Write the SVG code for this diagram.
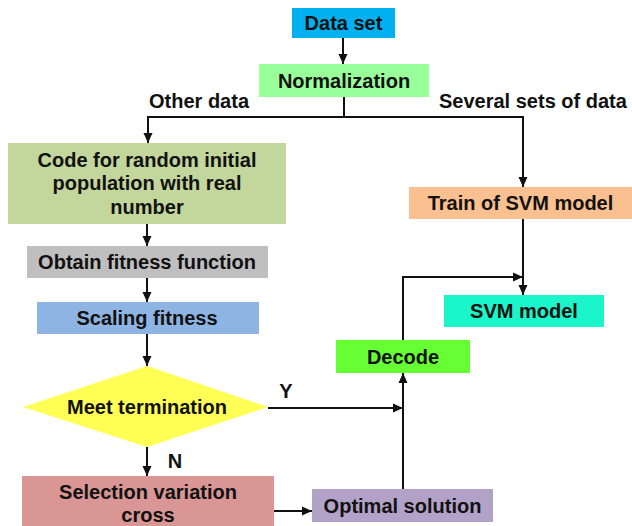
<svg xmlns="http://www.w3.org/2000/svg" width="632" height="526" viewBox="0 0 632 526">
<style>
text{font-family:"Liberation Sans",Arial,sans-serif;font-weight:bold;font-size:20px;fill:#111;text-anchor:middle}
.lbl{text-anchor:start}
.c{fill:none;stroke:#111;stroke-width:2}
</style>
<defs>
<marker id="ah" viewBox="0 0 10 10" refX="10" refY="5" markerWidth="10" markerHeight="10" markerUnits="userSpaceOnUse" orient="auto">
<path d="M0,0.5 L10,5 L0,9.5 Z" fill="#111"/>
</marker>
</defs>
<rect width="632" height="526" fill="#fff"/>
<g id="connectors">
<path class="c" d="M343,38 V64" marker-end="url(#ah)"/>
<path class="c" d="M344,97 V117"/>
<path class="c" d="M148,117 H523"/>
<path class="c" d="M148,116 V143" marker-end="url(#ah)"/>
<path class="c" d="M523,116 V187" marker-end="url(#ah)"/>
<path class="c" d="M147,224 V246" marker-end="url(#ah)"/>
<path class="c" d="M147,278 V302" marker-end="url(#ah)"/>
<path class="c" d="M147,334 V366" marker-end="url(#ah)"/>
<path class="c" d="M147,447 V476" marker-end="url(#ah)"/>
<path class="c" d="M268,408 H403" marker-end="url(#ah)"/>
<path class="c" d="M274,511 H312" marker-end="url(#ah)"/>
<path class="c" d="M403,489 V373" marker-end="url(#ah)"/>
<path class="c" d="M403,340 V277 H523" marker-end="url(#ah)"/>
<path class="c" d="M523,219 V295" marker-end="url(#ah)"/>
</g>
<g id="edge-labels">
<text x="149" y="108" class="lbl">Other data</text>
<text x="439" y="108" class="lbl">Several sets of data</text>
<text x="286" y="398">Y</text>
<text x="175" y="468">N</text>
</g>
<g id="data-set"><rect x="292" y="8" width="103" height="30" fill="#00B0F0"/><text x="343.5" y="30">Data set</text></g>
<g id="normalization"><rect x="259" y="64" width="170" height="33" fill="#99FF99"/><text x="344" y="88">Normalization</text></g>
<g id="code"><rect x="8" y="143" width="278" height="81" fill="#C3D69B"/><text x="147" y="167">Code for random initial</text><text x="147" y="190">population with real</text><text x="147" y="214">number</text></g>
<g id="obtain"><rect x="27" y="246" width="241" height="32" fill="#BFBFBF"/><text x="147" y="269">Obtain fitness function</text></g>
<g id="scaling"><rect x="37" y="302" width="222" height="32" fill="#8EB4E3"/><text x="147" y="325">Scaling fitness</text></g>
<g id="meet"><polygon points="23,407 147,366 268,407 147,447" fill="#FFFF55"/><text x="147" y="414">Meet termination</text></g>
<g id="selection"><rect x="22" y="476" width="252" height="54" fill="#D99694"/><text x="148" y="499">Selection variation</text><text x="148" y="522">cross</text></g>
<g id="optimal"><rect x="312" y="489" width="181" height="33" fill="#B3A2C7"/><text x="402.5" y="512.5">Optimal solution</text></g>
<g id="decode"><rect x="336" y="340" width="134" height="33" fill="#66FF33"/><text x="403" y="363.5">Decode</text></g>
<g id="train"><rect x="409" y="187" width="223" height="32" fill="#FAC090"/><text x="520.5" y="210">Train of SVM model</text></g>
<g id="svm-model"><rect x="444" y="295" width="160" height="32" fill="#1AF5C9"/><text x="524" y="318">SVM model</text></g>
</svg>
